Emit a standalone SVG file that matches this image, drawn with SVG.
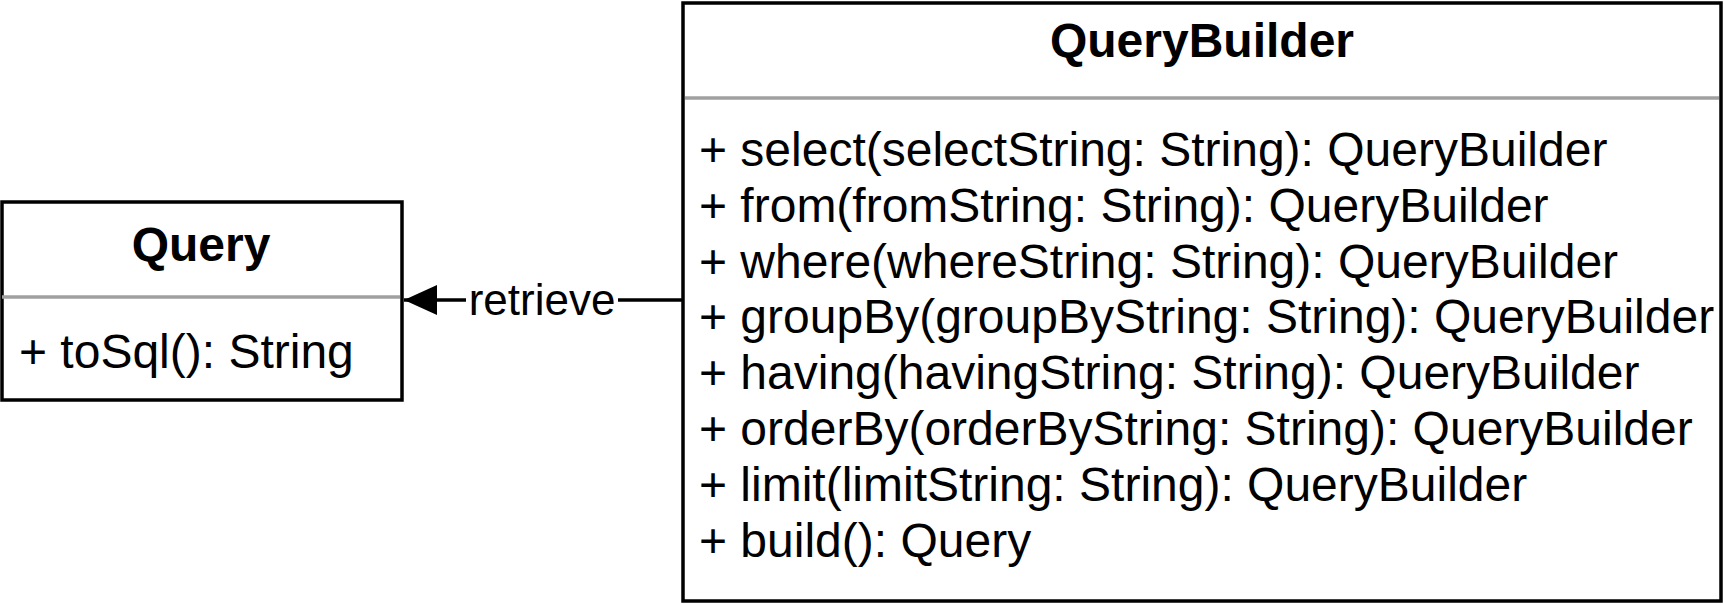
<svg xmlns="http://www.w3.org/2000/svg" width="1724" height="604" viewBox="0 0 1724 604">
<style>
.box{fill:#fff;stroke:#000;stroke-width:3.5}
.sep{stroke:#a0a0a0;stroke-width:3.5}
.t{font-family:"Liberation Sans",Arial,sans-serif;font-size:48px;fill:#000}
.b{font-weight:bold;text-anchor:middle}
.lbl{font-family:"Liberation Sans",Arial,sans-serif;font-size:44px;fill:#000;text-anchor:middle}
.edge{stroke:#000;stroke-width:3.5;fill:none}
</style>
<defs>
<marker id="ah" markerWidth="34" markerHeight="32" refX="33" refY="16" orient="auto" markerUnits="userSpaceOnUse">
<path d="M0,1 L33,16 L0,31 Z" fill="#000"/>
</marker>
</defs>
<rect width="1724" height="604" fill="#fff"/>
<g id="connectors">
<line class="edge" x1="682" y1="300" x2="404" y2="300" marker-end="url(#ah)"/>
<rect x="466" y="278" width="152" height="44" fill="#fff"/>
<text class="lbl" x="542" y="315">retrieve</text>
</g>
<g id="Query">
<rect class="box" x="2" y="202" width="400" height="198"/>
<line class="sep" x1="2" y1="297" x2="400" y2="297"/>
<text class="t b" x="201" y="261">Query</text>
<text class="t" x="19" y="368">+ toSql(): String</text>
</g>
<g id="QueryBuilder">
<rect class="box" x="683" y="3" width="1038" height="598"/>
<line class="sep" x1="685" y1="98" x2="1719" y2="98"/>
<text class="t b" x="1202" y="57">QueryBuilder</text>
<text class="t" x="699" y="166">+ select(selectString: String): QueryBuilder</text>
<text class="t" x="699" y="222">+ from(fromString: String): QueryBuilder</text>
<text class="t" x="699" y="278">+ where(whereString: String): QueryBuilder</text>
<text class="t" x="699" y="333">+ groupBy(groupByString: String): QueryBuilder</text>
<text class="t" x="699" y="389">+ having(havingString: String): QueryBuilder</text>
<text class="t" x="699" y="445">+ orderBy(orderByString: String): QueryBuilder</text>
<text class="t" x="699" y="501">+ limit(limitString: String): QueryBuilder</text>
<text class="t" x="699" y="557">+ build(): Query</text>
</g>
</svg>
